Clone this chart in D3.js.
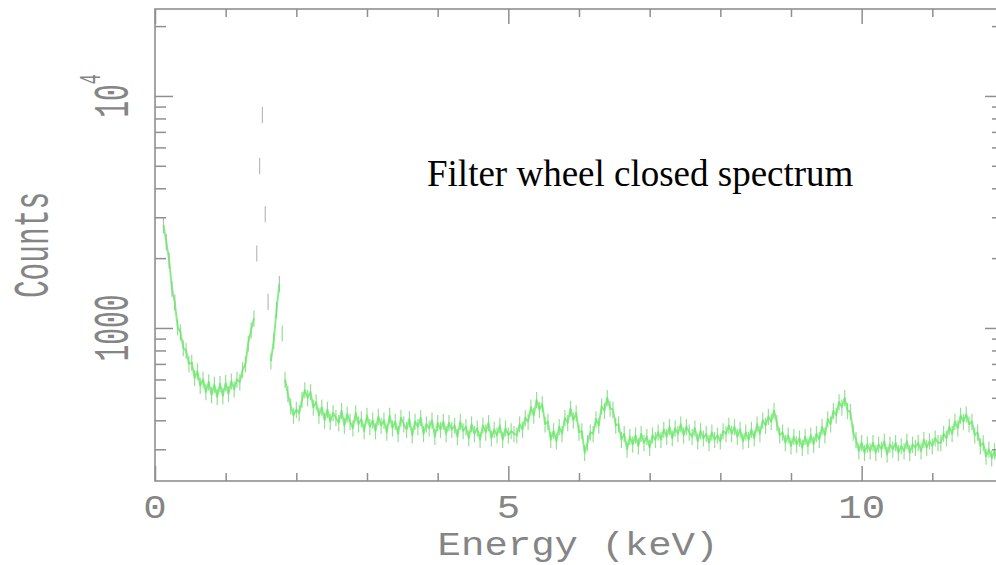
<!DOCTYPE html>
<html>
<head>
<meta charset="utf-8">
<script src="https://cdn.jsdelivr.net/npm/d3@7"></script>
<style>
  html, body { margin: 0; padding: 0; background: #fff; }
  svg { display: block; }
</style>
</head>
<body>
<svg id="chart" width="996" height="565"></svg>
<script>
// Filter-wheel-closed background spectrum: counts per 0.04 keV channel
const channelStart = 0.12;   // keV, centre of first channel
const channelWidth = 0.04;   // keV
const counts = [
  // 0.12 - 1.08 keV
  2780, 2350, 1960, 1480, 1290, 1010, 960, 820, 800, 700, 710, 610, 650, 565, 600, 530, 585, 515, 570, 505, 575, 510, 580, 520, 590,
  // 1.12 - 2.08 keV (Al K, Si K)
  545, 600, 585, 660, 700, 860, 980, 1100, 2100, 5000, 8300, 3100, 1300, 720, 880, 1200, 1550, 950, 600, 520, 460, 420, 445, 430, 490,
  // 2.12 - 3.08 keV
  540, 500, 530, 455, 480, 420, 455, 400, 445, 395, 430, 410, 390, 440, 380, 425, 395, 370, 430, 385, 405, 360, 420, 375, 400,
  // 3.12 - 4.08 keV
  360, 415, 380, 400, 355, 420, 370, 395, 350, 410, 385, 365, 405, 345, 395, 375, 410, 350, 385, 370, 400, 340, 390, 365, 395,
  // 4.12 - 5.08 keV
  350, 390, 365, 380, 340, 395, 360, 375, 335, 385, 350, 370, 330, 380, 355, 390, 335, 365, 345, 380, 330, 370, 345, 360, 350,
  // 5.12 - 6.08 keV (Cr K, Mn K)
  345, 385, 365, 410, 395, 455, 420, 490, 445, 470, 385, 395, 330, 360, 325, 375, 350, 410, 390, 450, 400, 430, 355, 360, 290,
  // 6.12 - 7.08 keV (Fe K)
  320, 355, 350, 405, 380, 460, 440, 500, 450, 445, 380, 385, 330, 350, 300, 340, 315, 345, 310, 350, 320, 340, 305, 345, 330,
  // 7.12 - 8.08 keV (Ni K)
  355, 330, 365, 340, 375, 335, 370, 350, 385, 345, 375, 355, 340, 370, 325, 360, 335, 350, 320, 355, 330, 345, 325, 360, 350,
  // 8.12 - 9.08 keV (Cu K, Zn K)
  380, 350, 375, 340, 365, 325, 355, 330, 365, 335, 385, 350, 400, 380, 415, 395, 440, 390, 345, 355, 320, 345, 310, 340, 315,
  // 9.12 - 10.08 keV (Au L-alpha)
  335, 305, 340, 310, 345, 315, 350, 330, 375, 345, 405, 385, 440, 420, 480, 455, 500, 440, 435, 355, 330, 295, 320, 290, 315,
  // 10.12 - 11.08 keV
  295, 320, 290, 315, 300, 325, 285, 315, 300, 320, 290, 310, 295, 325, 290, 315, 305, 320, 295, 330, 305, 325, 310, 335, 320,
  // 11.12 - 12.08 keV (Au L-beta)
  320, 350, 335, 375, 350, 395, 370, 420, 395, 425, 385, 395, 345, 355, 310, 320, 280, 300, 275, 295, 270, 290, 280, 285, 280
];
const errorFraction = 0.08;      // half-length of the per-channel error bars

// Axis ticks
const xMajorTicks = [0, 5, 10];
const xMinorTicks = [1, 2, 3, 4, 6, 7, 8, 9, 11, 12];
const xTickLabels = ["0", "5", "10"];
const yMajorTicks = [1000, 10000];
const yMinorTicks = [300, 400, 500, 600, 700, 800, 900,
                     2000, 3000, 4000, 5000, 6000, 7000, 8000, 9000, 20000];

const xTitle = "Energy (keV)";
const yTitle = "Counts";
const plotNote = "Filter wheel closed spectrum";

// ---------------------------------------------------------------
const svg = d3.select("#chart");
const frame = { left: 155, right: 1003, top: 9, bottom: 481 };

const x = d3.scaleLinear().domain([0, 12]).range([frame.left, frame.right]);
const y = d3.scaleLog().domain([219, 23700]).range([frame.bottom, frame.top]);

const axisColor = "#8f8f8f";
const labelColor = "#858585";
const monoFont = "'Liberation Mono', 'DejaVu Sans Mono', monospace";

const defs = svg.append("defs");
defs.append("clipPath").attr("id", "plot-clip")
  .append("rect")
  .attr("x", frame.left).attr("y", frame.top)
  .attr("width", frame.right - frame.left).attr("height", frame.bottom - frame.top);
defs.append("filter").attr("id", "soft")
  .append("feGaussianBlur").attr("stdDeviation", 0.55);

// ----- spectrum -----
const data = counts.map((c, i) => ({ e: channelStart + i * channelWidth, c }));
const plot = svg.append("g").attr("clip-path", "url(#plot-clip)")
  .append("g").attr("filter", "url(#soft)");

// error bars: green where the spectrum is dense, grey on the steep line peaks
const steep = d => d.c > 1150;
plot.append("g")
  .selectAll("line")
  .data(data)
  .join("line")
  .attr("x1", d => x(d.e)).attr("x2", d => x(d.e))
  .attr("y1", d => y(d.c * (1 + errorFraction)))
  .attr("y2", d => y(d.c * (1 - errorFraction)))
  .attr("stroke", d => steep(d) ? "#a9a9a9" : "#7ad87a")
  .attr("stroke-width", 1.2)
  .attr("opacity", 0.8);

// connect neighbouring channels, leaving steep line peaks as isolated points
const runs = [];
let run = [data[0]];
for (let i = 1; i < data.length; i++) {
  const a = data[i - 1].c, b = data[i].c;
  if (Math.max(a, b) / Math.min(a, b) > 1.45) { runs.push(run); run = []; }
  run.push(data[i]);
}
runs.push(run);

const line = d3.line().x(d => x(d.e)).y(d => y(d.c));
plot.append("g")
  .selectAll("path")
  .data(runs.filter(r => r.length > 1))
  .join("path")
  .attr("d", line)
  .attr("fill", "none")
  .attr("stroke", "#66e866")
  .attr("stroke-width", 1.9)
  .attr("stroke-linejoin", "round")
  .attr("opacity", 0.8);

// ----- frame and ticks -----
function styleAxis(g) {
  g.select(".domain").remove();
  g.selectAll(".tick line").attr("stroke", axisColor).attr("stroke-width", 1.5);
  g.selectAll(".tick text").remove();
}

svg.append("rect")
  .attr("x", frame.left).attr("y", frame.top)
  .attr("width", frame.right - frame.left).attr("height", frame.bottom - frame.top)
  .attr("fill", "none").attr("stroke", axisColor).attr("stroke-width", 1.6);

const xMajorLen = 15, xMinorLen = 8, yMajorLen = 18, yMinorLen = 11;

svg.append("g").attr("transform", `translate(0,${frame.bottom})`)
  .call(d3.axisBottom(x).tickValues(xMajorTicks).tickSize(-xMajorLen).tickSizeOuter(0)).call(styleAxis);
svg.append("g").attr("transform", `translate(0,${frame.bottom})`)
  .call(d3.axisBottom(x).tickValues(xMinorTicks).tickSize(-xMinorLen).tickSizeOuter(0)).call(styleAxis);
svg.append("g").attr("transform", `translate(0,${frame.top})`)
  .call(d3.axisTop(x).tickValues(xMajorTicks).tickSize(-xMajorLen).tickSizeOuter(0)).call(styleAxis);
svg.append("g").attr("transform", `translate(0,${frame.top})`)
  .call(d3.axisTop(x).tickValues(xMinorTicks).tickSize(-xMinorLen).tickSizeOuter(0)).call(styleAxis);

svg.append("g").attr("transform", `translate(${frame.left},0)`)
  .call(d3.axisLeft(y).tickValues(yMajorTicks).tickSize(-yMajorLen).tickSizeOuter(0)).call(styleAxis);
svg.append("g").attr("transform", `translate(${frame.left},0)`)
  .call(d3.axisLeft(y).tickValues(yMinorTicks).tickSize(-yMinorLen).tickSizeOuter(0)).call(styleAxis);
svg.append("g").attr("transform", `translate(${frame.right},0)`)
  .call(d3.axisRight(y).tickValues(yMajorTicks).tickSize(-yMajorLen).tickSizeOuter(0)).call(styleAxis);
svg.append("g").attr("transform", `translate(${frame.right},0)`)
  .call(d3.axisRight(y).tickValues(yMinorTicks).tickSize(-yMinorLen).tickSizeOuter(0)).call(styleAxis);

// ----- tick labels (plotter font is tall and narrow, slightly compressed vertically) -----
const hScale = "scale(0.78,0.68)";
const vScale = "scale(1,0.56) rotate(-90)";

svg.append("g").selectAll("text")
  .data(xMajorTicks)
  .join("text")
  .attr("transform", d => `translate(${x(d)},518) ${hScale}`)
  .attr("text-anchor", "middle")
  .attr("font-family", monoFont).attr("font-size", 50)
  .attr("fill", labelColor)
  .text((d, i) => xTickLabels[i]);

// 1000
svg.append("text")
  .attr("transform", `translate(128,${y(1000)}) ${vScale}`)
  .attr("text-anchor", "middle")
  .attr("font-family", monoFont).attr("font-size", 50)
  .attr("fill", labelColor)
  .text("1000");

// 10^4
const pow = svg.append("text")
  .attr("transform", `translate(128,${y(10000)}) ${vScale}`)
  .attr("text-anchor", "middle")
  .attr("font-family", monoFont).attr("font-size", 50)
  .attr("fill", labelColor);
pow.append("tspan").text("10");
pow.append("tspan").attr("font-size", 30).attr("dy", -28).text("4");

// ----- axis titles -----
svg.append("text")
  .attr("transform", `translate(578,555) ${hScale}`)
  .attr("text-anchor", "middle")
  .attr("font-family", monoFont).attr("font-size", 50)
  .attr("fill", labelColor)
  .text(xTitle);

svg.append("text")
  .attr("transform", `translate(48,245) scale(1,0.59) rotate(-90)`)
  .attr("text-anchor", "middle")
  .attr("font-family", monoFont).attr("font-size", 50)
  .attr("fill", labelColor)
  .text(yTitle);

// ----- annotation -----
svg.append("text")
  .attr("x", 427).attr("y", 186)
  .attr("font-family", "'Liberation Serif', 'Times New Roman', serif")
  .attr("font-size", 37)
  .attr("fill", "#000")
  .text(plotNote);
</script>
</body>
</html>
